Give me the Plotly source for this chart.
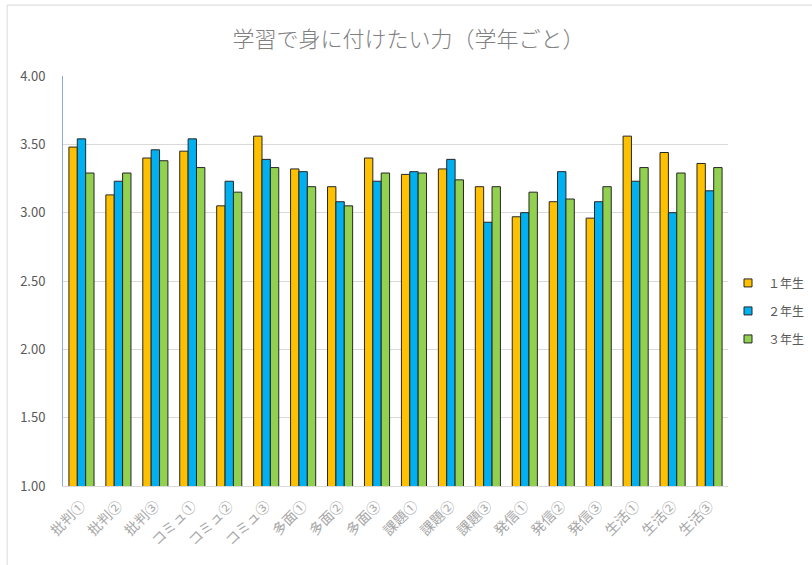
import plotly.graph_objects as go

categories = ["批判①", "批判②", "批判③", "コミュ①", "コミュ②", "コミュ③",
              "多面①", "多面②", "多面③", "課題①", "課題②", "課題③",
              "発信①", "発信②", "発信③", "生活①", "生活②", "生活③"]
grade1 = [3.48, 3.13, 3.40, 3.45, 3.05, 3.56, 3.32, 3.19, 3.40, 3.28, 3.32, 3.19,
          2.97, 3.08, 2.96, 3.56, 3.44, 3.36]
grade2 = [3.54, 3.23, 3.46, 3.54, 3.23, 3.39, 3.30, 3.08, 3.23, 3.30, 3.39, 2.93,
          3.00, 3.30, 3.08, 3.23, 3.00, 3.16]
grade3 = [3.29, 3.29, 3.38, 3.33, 3.15, 3.33, 3.19, 3.05, 3.29, 3.29, 3.24, 3.19,
          3.15, 3.10, 3.19, 3.33, 3.29, 3.33]
series_names = ["１年生", "２年生", "３年生"]
colors = ["#FFC000", "#00B0F0", "#92D050"]
y_ticks = [1.0, 1.5, 2.0, 2.5, 3.0, 3.5, 4.0]

FONT = "Noto Sans CJK JP"
GRAY = "#595959"

fig = go.Figure()
for name, vals, col in zip(series_names, [grade1, grade2, grade3], colors):
    fig.add_trace(go.Bar(
        x=categories, y=vals, name=name, showlegend=False, legendgroup=name,
        marker=dict(color=col, line=dict(color="#262626", width=1)),
    ))
# legend entries with small square markers
for name, col in zip(series_names, colors):
    fig.add_trace(go.Scatter(
        x=[None], y=[None], mode="markers", name=name, legendgroup=name,
        marker=dict(symbol="square", size=8, color=col,
                    line=dict(color="#262626", width=1)),
    ))

fig.update_layout(
    width=812, height=565,
    paper_bgcolor="white", plot_bgcolor="white",
    margin=dict(l=63, r=84, t=76, b=79, autoexpand=False),
    barmode="group", bargap=0.32, bargroupgap=0,
    font=dict(family=FONT, color=GRAY, size=12),
    title=dict(text="学習で身に付けたい力（学年ごと）", x=0.503, xanchor="center",
               y=0.93, yanchor="middle",
               font=dict(family=FONT, size=22, color="#808080", weight=300)),
    legend=dict(x=1.0, xanchor="left", y=0.427, yanchor="middle",
                font=dict(family=FONT, size=12, color=GRAY),
                tracegroupgap=9, itemwidth=30, borderwidth=0),
    showlegend=True,
)
fig.update_xaxes(
    tickangle=-45, showline=True, linecolor="#D9D9D9", linewidth=1,
    showgrid=False, automargin=False, ticks="", ticklabelstandoff=5,
    tickfont=dict(family=FONT, size=14, color="#A6A6A6"),
)
fig.update_yaxes(
    range=[1.0, 4.0], tickvals=y_ticks, tickformat=".2f",
    showgrid=True, gridcolor="#D9D9D9", gridwidth=1,
    showline=True, linecolor="#8FAADC", linewidth=1,
    ticks="", automargin=False, ticklabelstandoff=14,
    tickfont=dict(family=FONT, size=13, color=GRAY), zeroline=False,
)
# outer chart frame
fig.add_shape(type="rect", xref="paper", yref="paper",
              x0=-0.084, x1=1.4, y0=-0.25, y1=1.173,
              line=dict(color="#D9D9D9", width=1), fillcolor="rgba(0,0,0,0)",
              layer="below")

fig.write_html("out.html", config={"displayModeBar": False},
               post_script="document.body.style.margin='0';document.body.style.overflow='hidden';")
